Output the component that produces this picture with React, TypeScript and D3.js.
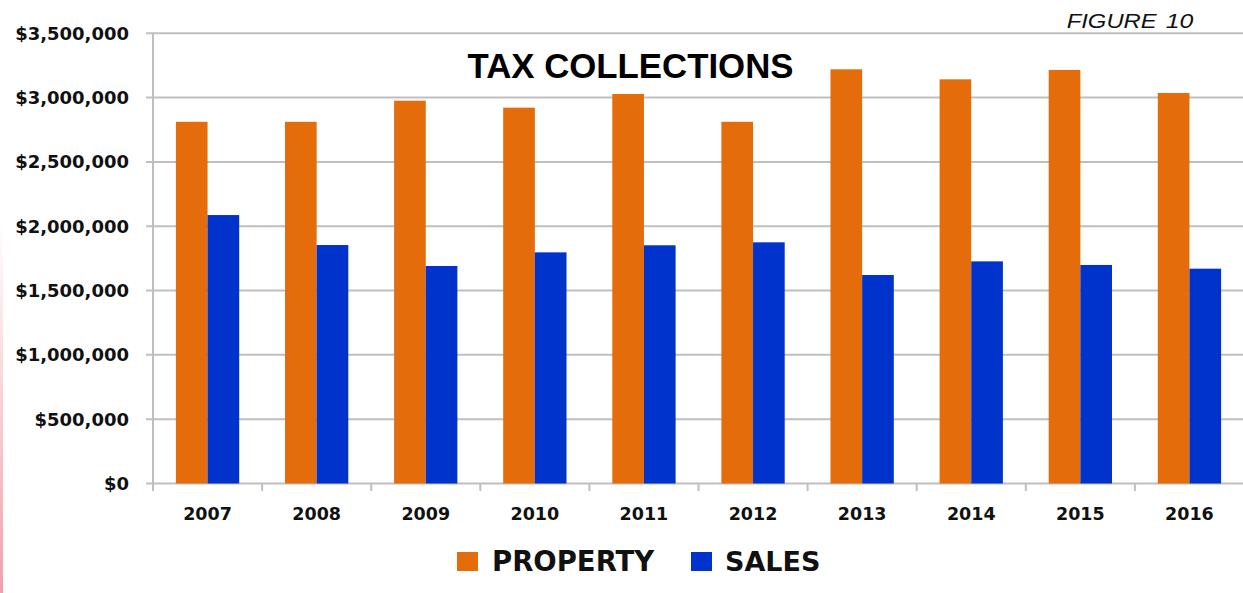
import React from "react";
import * as d3 from "d3";

const years = ["2007", "2008", "2009", "2010", "2011", "2012", "2013", "2014", "2015", "2016"];
const property = [2812000, 2812000, 2976000, 2922000, 3028000, 2812000, 3220000, 3142000, 3215000, 3036000];
const sales = [2087000, 1854000, 1691000, 1797000, 1852000, 1875000, 1621000, 1727000, 1699000, 1670000];
const seriesNames = ["PROPERTY", "SALES"];
const seriesColors = ["#E46C0A", "#0033CC"];
const yTicks = [0, 500000, 1000000, 1500000, 2000000, 2500000, 3000000, 3500000];

const W = 1243;
const H = 593;

export default function App() {
  const x0 = d3.scaleBand<string>().domain(years).range([153, 1244]).paddingInner(0).paddingOuter(0);
  const bw = x0.bandwidth();
  const x1 = d3.scaleBand<string>().domain(seriesNames).range([0, bw]).paddingInner(0).paddingOuter(0.7236);
  const y = d3.scaleLinear().domain([0, 3500000]).range([483.5, 33.3]);
  const fmt = (v: number) => "$" + d3.format(",")(v);
  const data = [property, sales];
  const grid = "#BFBFBF";
  const bandEdges = years.map((yr) => x0(yr)!).concat([x0(years[years.length - 1])! + bw]);

  return (
    <svg
      width={W}
      height={H}
      style={{ position: "fixed", left: 0, top: 0, background: "#fff" }}
      xmlns="http://www.w3.org/2000/svg"
    >
      <defs>
        <linearGradient id="pinkEdge" x1="0" y1="0" x2="0" y2="1">
          <stop offset="0" stopColor="#F4A0A8" stopOpacity="0" />
          <stop offset="1" stopColor="#F4A0A8" stopOpacity="1" />
        </linearGradient>
      </defs>
      <rect x={0} y={0} width={W} height={H} fill="#fff" />
      <rect x={0} y={220} width={3} height={H - 220} fill="url(#pinkEdge)" />

      {/* gridlines */}
      {yTicks.map((t) => (
        <line key={t} x1={146} x2={1243} y1={y(t)} y2={y(t)} stroke={grid} strokeWidth={2} />
      ))}
      {/* y axis line */}
      <line x1={153} x2={153} y1={y(3500000)} y2={491} stroke={grid} strokeWidth={2} />
      {/* x ticks */}
      {bandEdges.map((e, i) => (
        <line key={i} x1={e} x2={e} y1={y(0)} y2={491} stroke={grid} strokeWidth={2} />
      ))}

      {/* bars */}
      {years.map((yr, i) => (
        <g key={yr} transform={`translate(${x0(yr)},0)`}>
          {seriesNames.map((s, si) => (
            <rect
              key={s}
              x={x1(s)}
              y={y(data[si][i])}
              width={x1.bandwidth()}
              height={y(0) - y(data[si][i])}
              fill={seriesColors[si]}
            />
          ))}
        </g>
      ))}

      {/* y labels */}
      {yTicks.map((t) => (
        <text
          key={t}
          x={129}
          y={y(t)}
          dy="0.36em"
          textAnchor="end"
          fontFamily="DejaVu Sans, Verdana, sans-serif"
          fontWeight="bold"
          fontSize={18}
          fill="#111"
        >
          {fmt(t)}
        </text>
      ))}

      {/* x labels */}
      {years.map((yr) => (
        <text
          key={yr}
          x={x0(yr)! + bw / 2}
          y={520}
          textAnchor="middle"
          fontFamily="DejaVu Sans, Verdana, sans-serif"
          fontWeight="bold"
          fontSize={17.5}
          fill="#111"
        >
          {yr}
        </text>
      ))}

      {/* title */}
      <text
        x={630.5}
        y={78}
        textAnchor="middle"
        fontFamily="Liberation Sans, Arial, sans-serif"
        fontWeight="bold"
        fontSize={34.8}
        fill="#000"
      >
        TAX COLLECTIONS
      </text>

      {/* figure label */}
      <text
        x={1066.7}
        y={28.3}
        fontFamily="Liberation Sans, Arial, sans-serif"
        fontStyle="italic"
        fontSize={21}
        fill="#111"
        textLength={90}
        lengthAdjust="spacingAndGlyphs"
      >
        FIGURE
      </text>
      <text
        x={1165.7}
        y={28.3}
        fontFamily="Liberation Sans, Arial, sans-serif"
        fontStyle="italic"
        fontSize={21}
        fill="#111"
        textLength={27.6}
        lengthAdjust="spacingAndGlyphs"
      >
        10
      </text>

      {/* legend */}
      <rect x={457} y={552} width={21} height={19} fill={seriesColors[0]} />
      <text
        x={492}
        y={571}
        fontFamily="DejaVu Sans, Verdana, sans-serif"
        fontWeight="bold"
        fontSize={27.5}
        fill="#111"
      >
        {seriesNames[0]}
      </text>
      <rect x={691} y={552} width={21} height={19} fill={seriesColors[1]} />
      <text
        x={725}
        y={571}
        fontFamily="DejaVu Sans, Verdana, sans-serif"
        fontWeight="bold"
        fontSize={27}
        fill="#111"
      >
        {seriesNames[1]}
      </text>
    </svg>
  );
}
